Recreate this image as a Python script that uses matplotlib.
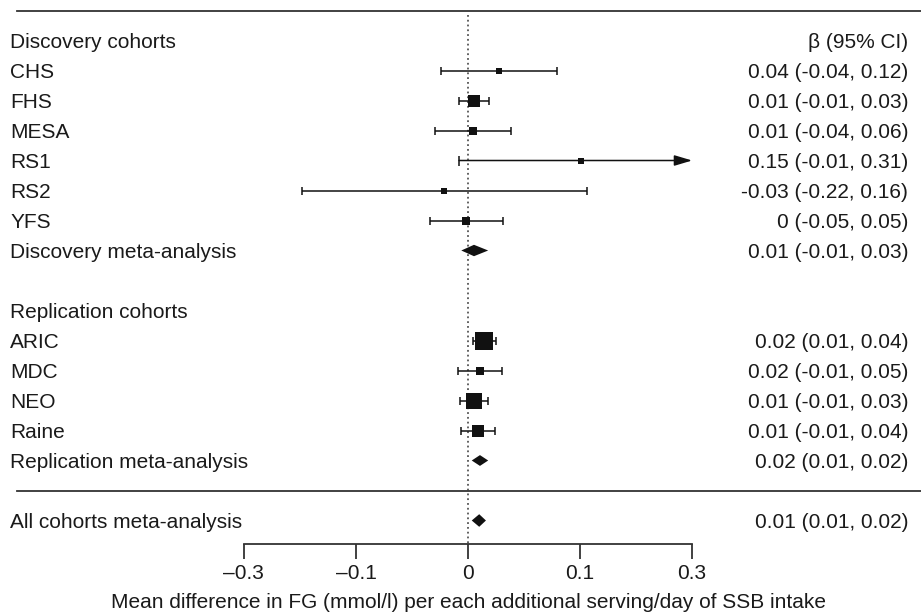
import numpy as np
import matplotlib
matplotlib.use('Agg')
import matplotlib.pyplot as plt
from matplotlib import transforms

plt.rcParams['font.family'] = ['Liberation Sans', 'DejaVu Sans']

# discovery cohorts
disc_names = ['CHS', 'FHS', 'MESA', 'RS1', 'RS2', 'YFS']
disc_est = [0.042, 0.008, 0.007, 0.151, -0.032, -0.003]
disc_lo = [-0.036, -0.012, -0.044, -0.012, -0.222, -0.051]
disc_hi = [0.119, 0.028, 0.058, 0.31, 0.159, 0.047]
disc_weight = [36, 144, 49, 36, 30, 49]
disc_text = ['0.04 (-0.04, 0.12)', '0.01 (-0.01, 0.03)', '0.01 (-0.04, 0.06)',
             '0.15 (-0.01, 0.31)', '-0.03 (-0.22, 0.16)', '0 (-0.05, 0.05)']
disc_meta = [0.008, -0.009, 0.027]
disc_meta_text = '0.01 (-0.01, 0.03)'

# replication cohorts
rep_names = ['ARIC', 'MDC', 'NEO', 'Raine']
rep_est = [0.021, 0.016, 0.008, 0.013]
rep_lo = [0.007, -0.013, -0.011, -0.009]
rep_hi = [0.037, 0.045, 0.027, 0.036]
rep_weight = [306, 72, 225, 121]
rep_text = ['0.02 (0.01, 0.04)', '0.02 (-0.01, 0.05)', '0.01 (-0.01, 0.03)',
            '0.01 (-0.01, 0.04)']
rep_meta = [0.016, 0.005, 0.027]
rep_meta_text = '0.02 (0.01, 0.02)'

all_meta = [0.015, 0.005, 0.024]
all_meta_text = '0.01 (0.01, 0.02)'

tick_vals = [-0.3, -0.15, 0, 0.15, 0.3]
tick_labels = ['\u20130.3', '\u20130.1', '0', '0.1', '0.3']

xmin, xmax = -0.3, 0.3
fs = 15
txt_col = '#1a1a1a'
line_col = '#333333'
mark_col = '#111111'

fig = plt.figure(figsize=(9.21, 6.13), dpi=100)
ax = fig.add_axes([0, 0, 1, 1])
ax.set_xlim(-0.6265, 0.6064)
ax.set_ylim(19.083, -1.35)
ax.patch.set_alpha(0)
for s in ['top', 'left', 'right']:
    ax.spines[s].set_visible(False)
trans = transforms.blended_transform_factory(ax.transAxes, ax.transData)

left_x = 0.0109
right_x = 0.986


def row_text(row, name, ci):
    ax.text(left_x, row, name, transform=trans, ha='left', va='center_baseline',
            fontsize=fs, color=txt_col)
    if ci:
        ax.text(right_x, row, ci, transform=trans, ha='right', va='center_baseline',
                fontsize=fs, color=txt_col)


def study(row, est, lo, hi, w):
    if hi > xmax:
        ax.annotate('', xy=(xmax, row), xytext=(lo, row),
                    arrowprops=dict(arrowstyle='-|>,head_length=0.77,head_width=0.23',
                                    mutation_scale=14, color=mark_col, lw=1.1,
                                    shrinkA=0, shrinkB=0))
        ax.plot([lo], [row], marker='|', markersize=6.5, mew=1.1, color=mark_col)
    else:
        ax.errorbar([est], [row], xerr=[[est - lo], [hi - est]], fmt='none',
                    ecolor=mark_col, elinewidth=1.1, capsize=3.2, capthick=1.1)
    ax.plot([est], [row], marker='s', markersize=np.sqrt(w) * 0.75,
            color=mark_col, mew=0, zorder=4)


def diamond(row, vals, h):
    est, lo, hi = vals
    ax.fill([lo, est, hi, est], [row, row - h, row, row + h], color=mark_col,
            lw=0, zorder=4)


# header
row_text(0, 'Discovery cohorts', '\u03b2 (95% CI)')
for k in range(len(disc_names)):
    r = 1 + k
    row_text(r, disc_names[k], disc_text[k])
    study(r, disc_est[k], disc_lo[k], disc_hi[k], disc_weight[k])
row_text(7, 'Discovery meta-analysis', disc_meta_text)
diamond(7, disc_meta, 0.19)

row_text(9, 'Replication cohorts', '')
for k in range(len(rep_names)):
    r = 10 + k
    row_text(r, rep_names[k], rep_text[k])
    study(r, rep_est[k], rep_lo[k], rep_hi[k], rep_weight[k])
row_text(14, 'Replication meta-analysis', rep_meta_text)
diamond(14, rep_meta, 0.18)

row_text(16, 'All cohorts meta-analysis', all_meta_text)
diamond(16, all_meta, 0.21)

# horizontal rules
for r in [-1, 15]:
    ax.plot([0.0185, 1.0], [r, r], transform=trans, color=line_col, lw=1.3,
            clip_on=False)

# null line
axis_row = 16.78
ax.plot([0, 0], [-0.85, axis_row], color='#555555', lw=1.3, ls=':', zorder=1)

# x axis
ax.spines['bottom'].set_position(('data', axis_row))
ax.spines['bottom'].set_bounds(xmin, xmax)
ax.spines['bottom'].set_color(line_col)
ax.spines['bottom'].set_linewidth(1.3)
ax.set_yticks([])
ax.set_xticks(tick_vals)
ax.set_xticklabels(tick_labels)
ax.tick_params(axis='x', direction='out', length=10.8, width=1.3, color=line_col,
               pad=4, labelsize=fs, labelcolor=txt_col)

ax.text(0, 18.65, 'Mean difference in FG (mmol/l) per each additional serving/day of SSB intake',
        ha='center', va='center_baseline', fontsize=fs, color=txt_col)

fig.savefig('out.png', dpi=100)
